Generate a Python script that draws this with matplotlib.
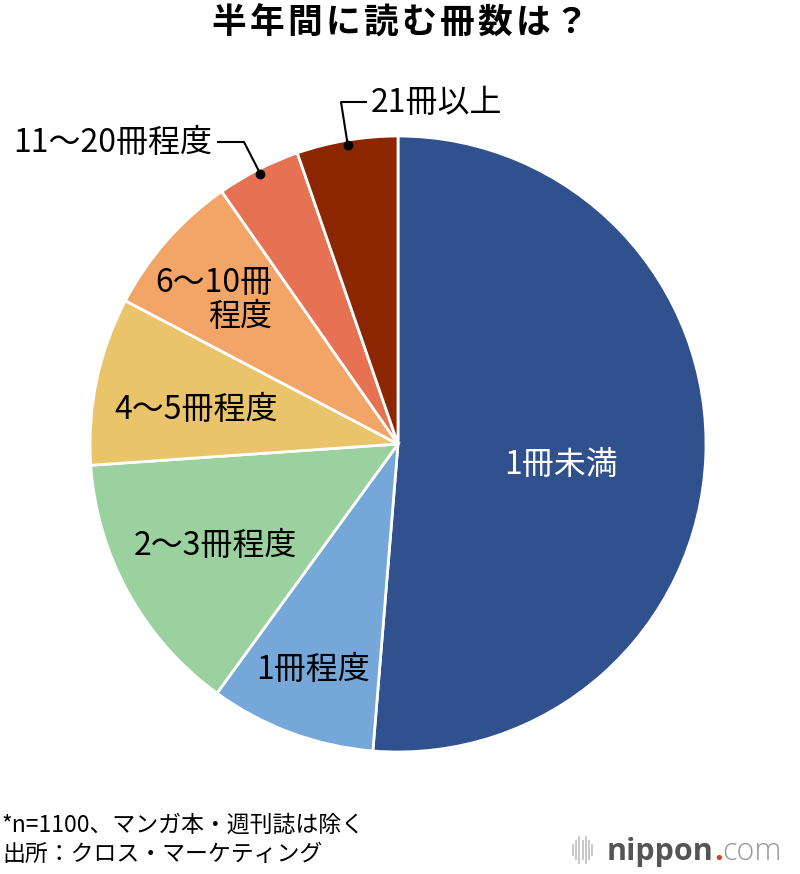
import numpy as np
import matplotlib.pyplot as plt

plt.rcParams['font.family'] = ['Noto Sans CJK JP', 'DejaVu Sans']

# data (share of respondents, %)
labels = ['1冊未満', '1冊程度', '2〜3冊程度', '4〜5冊程度', '6〜10冊\n程度', '11〜20冊程度', '21冊以上']
values = [51.3, 8.7, 13.9, 8.8, 7.6, 4.4, 5.3]
colors = ['#30508e', '#76a7d9', '#9bd19e', '#e9c46b', '#f2a566', '#e77253', '#8c2600']
title = '半年間に読む冊数は？'

W, H = 800, 874
fig = plt.figure(figsize=(W / 100, H / 100), dpi=100)
ax = fig.add_axes([0, 0, 1, 1])
ax.set_xlim(0, W)
ax.set_ylim(0, H)
ax.set_aspect('equal')
ax.axis('off')

cx, cy, r = 398, H - 444, 308
wedges, _ = ax.pie(values, colors=colors, startangle=90, counterclock=False,
                   center=(cx, cy), radius=r,
                   wedgeprops=dict(edgecolor='white', linewidth=2))
ax.set_xlim(0, W)
ax.set_ylim(0, H)

# inside labels: (x, y in pixel from top, colour, alignment)
inside = {
    0: (561, 465, 'white', 'center'),
    1: (313, 670, 'black', 'center'),
    2: (215, 546, 'black', 'center'),
    3: (196, 410, 'black', 'center'),
    4: (272, 300, 'black', 'right'),
}
for i, (x, y, c, ha) in inside.items():
    ax.text(x, H - y, labels[i], color=c, fontsize=23, ha=ha, va='center',
            multialignment=ha, linespacing=1.1)

# leader lines for the small slices
def leader(i, pts, tx, ty, ha):
    w = wedges[i]
    mid = np.deg2rad((w.theta1 + w.theta2) / 2)
    px = cx + 0.985 * r * np.cos(mid)
    py = cy + 0.985 * r * np.sin(mid)
    xs = [px] + [p[0] for p in pts]
    ys = [py] + [H - p[1] for p in pts]
    ax.plot(xs, ys, color='black', lw=1.5, zorder=5)
    ax.plot(px, py, 'o', color='black', ms=6, zorder=6)
    ax.text(tx, H - ty, labels[i], fontsize=23, ha=ha, va='center')

leader(5, [(244, 142), (218, 142)], 212, 143, 'right')
leader(6, [(341, 102), (366, 102)], 371, 103, 'left')

# title, spaced out a little like the original
pitch = 38
x0 = 400 - pitch * (len(title) - 1) / 2
for k, ch in enumerate(title):
    ax.text(x0 + k * pitch, H - 22, ch, fontsize=25, fontweight='bold',
            ha='center', va='center')

# footnotes
ax.text(2, H - 825, '*n=1100、マンガ本・週刊誌は除く', fontsize=16.5,
        ha='left', va='center')
ax.text(2, H - 854, '出所：クロス・マーケティング', fontsize=16.5,
        ha='left', va='center')

# nippon.com logo
for k, hgt in enumerate([10, 18, 26, 18, 26, 18, 10]):
    xb = 573 + k * 3.2
    ax.plot([xb, xb], [H - 850 - hgt / 2, H - 850 + hgt / 2], color='#c4c4c4', lw=1.3)
fig.canvas.draw()
rend = fig.canvas.get_renderer()
t1 = ax.text(607, H - 852, 'nippon', fontsize=22, fontweight='bold', color='#555555',
             ha='left', va='center', family='Open Sans')
bb = t1.get_window_extent(rend)
t2 = ax.text(bb.x1, H - 852, '.', fontsize=22, fontweight='bold', color='#d0441c',
             ha='left', va='center', family='Open Sans')
bb2 = t2.get_window_extent(rend)
ax.text(bb2.x1, H - 852, 'com', fontsize=22, fontweight='light', color='#999999',
        ha='left', va='center', family='Open Sans')

fig.savefig('out.png', dpi=100, facecolor='white')
